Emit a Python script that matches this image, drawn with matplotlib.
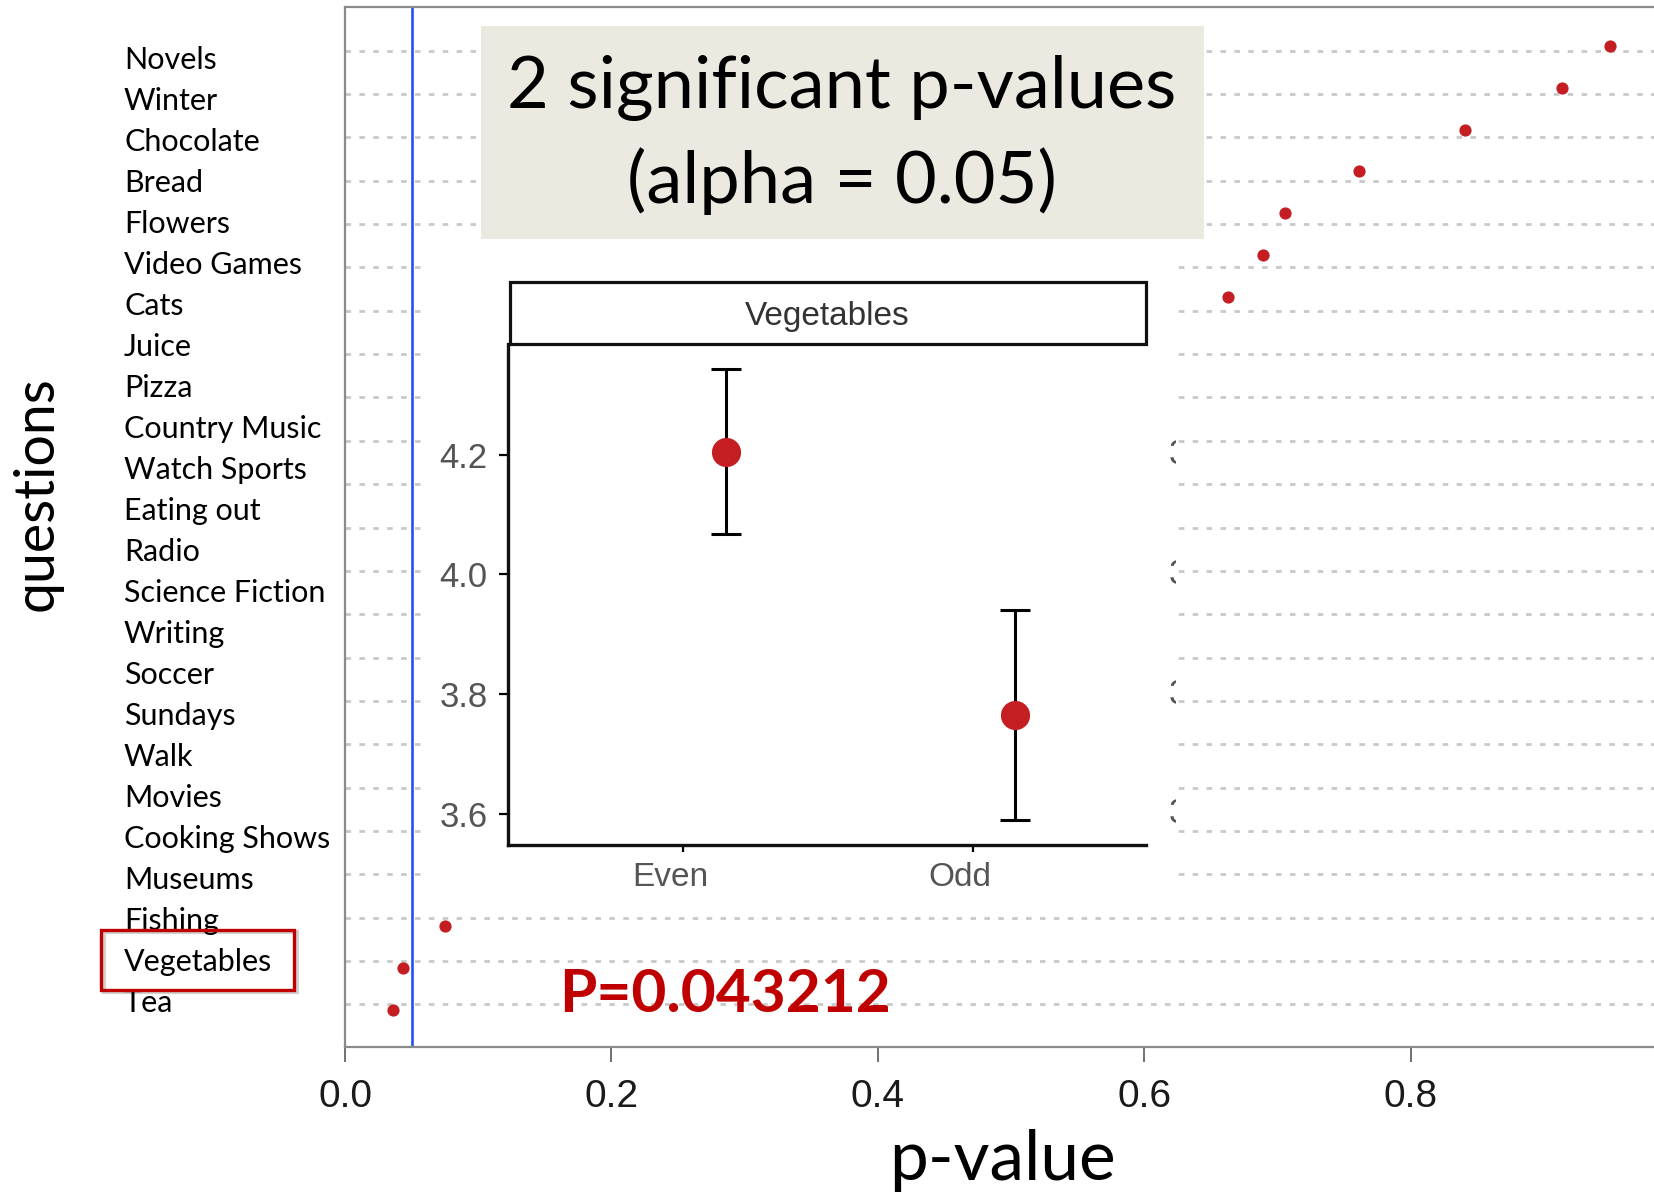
import matplotlib
matplotlib.use("Agg")
import matplotlib.pyplot as plt
from matplotlib.patches import Rectangle
from matplotlib.transforms import blended_transform_factory, ScaledTranslation

# ---------------- data ----------------
# questions, bottom (smallest p) to top (largest p)
questions = ["Tea", "Vegetables", "Fishing", "Museums", "Cooking Shows", "Movies",
             "Walk", "Sundays", "Soccer", "Writing", "Science Fiction", "Radio",
             "Eating out", "Watch Sports", "Country Music", "Pizza", "Juice",
             "Cats", "Video Games", "Flowers", "Bread", "Chocolate", "Winter", "Novels"]
# visible values; middle ones are hidden under the inset (estimates)
p_values = [0.036, 0.043212, 0.075, 0.112, 0.158, 0.187,
            0.231, 0.262, 0.304, 0.338, 0.371, 0.412,
            0.449, 0.497, 0.533, 0.571, 0.606,
            0.663, 0.689, 0.706, 0.761, 0.841, 0.914, 0.950]
alpha_level = 0.05
x_ticks = [0.0, 0.2, 0.4, 0.6, 0.8]
x_tick_labels = ["0.0", "0.2", "0.4", "0.6", "0.8"]

# inset: Vegetables by group
groups = ["Even", "Odd"]
group_means = [4.205, 3.765]
group_low = [4.068, 3.589]
group_high = [4.344, 3.941]
inset_yticks = [3.6, 3.8, 4.0, 4.2]
inset_ytick_labels = ["3.6", "3.8", "4.0", "4.2"]

title_lines = ["2 significant p-values", "(alpha = 0.05)"]
p_text = "P=0.043212"
highlight = "Vegetables"

# ---------------- layout ----------------
W, H = 1654, 1194
fig = plt.figure(figsize=(W / 100, H / 100), dpi=100)
fig.patch.set_facecolor("white")


def rect(l, t, r, b):
    return [l / W, 1 - b / H, (r - l) / W, (b - t) / H]


RED = "#C41E22"
DARK_RED = "#C00000"
CAL = ["Lato", "DejaVu Sans"]
ARIAL = ["Liberation Sans", "DejaVu Sans"]

main_rect = rect(345, 7.4, 1654, 1047)
XLIM = (0.0, 0.9827)
n_rows = len(questions)

# background grid layer (separate dashed guide layer of the composite)
ax_grid = fig.add_axes(main_rect, zorder=0)
ax_grid.set_xlim(*XLIM)
ax_grid.set_ylim(-0.985, 23.0)
ax_grid.set_yticks(range(23))
ax_grid.set_xticks([])
ax_grid.tick_params(left=False, labelleft=False)
ax_grid.yaxis.grid(True, color="#C9C9C9", lw=2.0, linestyle=(0, (2.0, 3.0)))
for s in ax_grid.spines.values():
    s.set_visible(False)

# main dot plot
ax = fig.add_axes(main_rect, zorder=1)
ax.patch.set_visible(False)
ypos = list(range(n_rows))
ax.plot(p_values, ypos, "o", ms=8.8, color=RED, mec="none", zorder=3)
ax.axvline(alpha_level, color="#2450F2", lw=1.9, zorder=2)
ax.set_xlim(*XLIM)
ax.set_ylim(-0.882, 23.913)
ax.set_yticks([])
ax.set_xticks(x_ticks)
ax.set_xticklabels(x_tick_labels, fontfamily=ARIAL, fontsize=28, color="#1A1A1A")
ax.tick_params(axis="x", length=11, width=1.4, color="#707070", pad=12)
for side in ["left", "bottom", "top"]:
    ax.spines[side].set_color("#8A8A8A")
    ax.spines[side].set_linewidth(1.6)
ax.spines["right"].set_visible(False)
ax.set_xlabel("p-value", fontfamily=CAL, fontsize=50, va="center")
ax.xaxis.set_label_coords(0.502, -0.1087)
ax.set_ylabel("questions", fontfamily=CAL, fontsize=40, va="center", ha="center")
ax.yaxis.set_label_coords(-0.2353, 0.532)

# category labels layer
ax_lab = fig.add_axes(main_rect, zorder=1)
ax_lab.patch.set_visible(False)
for s in ax_lab.spines.values():
    s.set_visible(False)
ax_lab.set_xticks([])
ax_lab.set_ylim(-1.121, 24.209)
ax_lab.set_yticks(range(n_rows))
ax_lab.set_yticklabels(questions, fontfamily=CAL, fontsize=22, ha="left")
ax_lab.tick_params(axis="y", length=0, pad=(345 - 124) * 0.72)

# highlight box round the Vegetables label (with a faint shadow)
hi = questions.index(highlight)
tr = blended_transform_factory(fig.transFigure, ax_lab.transData)
shadow_tr = tr + ScaledTranslation(2.5 / 100, -2.5 / 100, fig.dpi_scale_trans)
ax_lab.add_artist(Rectangle((101 / W, hi - 0.73), (294 - 101) / W, 1.46, transform=shadow_tr,
                            fill=False, ec="#000000", alpha=0.18, lw=3.0, clip_on=False, zorder=5))
ax_lab.add_artist(Rectangle((101 / W, hi - 0.73), (294 - 101) / W, 1.46, transform=tr,
                            fill=False, ec=DARK_RED, lw=2.4, clip_on=False, zorder=6))

# white cover under the inset
fig.add_artist(Rectangle((428 / W, 1 - 905 / H), (1176 - 428) / W, (905 - 245) / H,
                         transform=fig.transFigure, fc="white", ec="none", zorder=2))

# title box
fig.add_artist(Rectangle((481 / W, 1 - 239 / H), (1204 - 481) / W, (239 - 26) / H,
                         transform=fig.transFigure, fc="#ECEAE0", ec="none", zorder=3))
fig.text(842 / W, 1 - 88 / H, title_lines[0], ha="center", va="center",
         fontfamily=CAL, fontsize=52, zorder=4)
fig.text(842 / W, 1 - 181 / H, title_lines[1], ha="center", va="center",
         fontfamily=CAL, fontsize=52, zorder=4)

# p text
fig.text(725 / W, 1 - 995 / H, p_text, ha="center", va="center", fontfamily=CAL,
         fontweight="bold", fontsize=43.5, color=DARK_RED, zorder=4)

# inset panel
ax_in = fig.add_axes(rect(508, 344, 1146, 845), zorder=5)
ax_in.set_facecolor("white")
gx = [i + 1 for i in range(len(groups))]
dodge = 0.146
label_shift = 0.045
xs = [g + dodge for g in gx]
yerr = [[m - lo for m, lo in zip(group_means, group_low)],
        [hi_ - m for m, hi_ in zip(group_means, group_high)]]
ax_in.errorbar(xs, group_means, yerr=yerr, fmt="o", ms=21, color=RED, mec="none",
               ecolor="black", elinewidth=2.2, capsize=10.5, capthick=2.2)
ax_in.set_xlim(0.394, 2.599)
ax_in.set_ylim(3.548, 4.385)
# tick marks at the group positions, labels slightly to the left (as in the picture)
ax_in.set_xticks(gx)
ax_in.set_xticklabels([])
ax_in.set_xticks([g - label_shift for g in gx], minor=True)
ax_in.set_xticklabels(groups, minor=True, fontfamily=ARIAL, fontsize=24, color="#555555")
ax_in.tick_params(axis="x", which="major", length=5, width=1.6)
ax_in.tick_params(axis="x", which="minor", length=0, pad=12.5)
ax_in.set_yticks(inset_yticks)
ax_in.set_yticklabels(inset_ytick_labels, fontfamily=ARIAL, fontsize=25, color="#555555")
ax_in.tick_params(axis="y", length=6.5, width=1.6, pad=8)
for side in ["top", "right"]:
    ax_in.spines[side].set_visible(False)
for side in ["left", "bottom"]:
    ax_in.spines[side].set_linewidth(2.4)
    ax_in.spines[side].set_color("#111111")

strip_h = (344 - 282) / (845 - 344)
ax_in.add_artist(Rectangle((0.003, 1.0), 0.997, strip_h, transform=ax_in.transAxes,
                           fc="white", ec="#111111", lw=2.3, clip_on=False))
ax_in.text(0.5, 1 + strip_h / 2 - 4 / 501, highlight, transform=ax_in.transAxes, ha="center",
           va="center", fontfamily=ARIAL, fontsize=24, color="#333333")

# clipped fragments of the neighbouring facet's tick labels
ax_frag = fig.add_axes(rect(1169, 344, 1176, 845), zorder=5)
ax_frag.axis("off")
ax_frag.set_ylim(3.548, 4.385)
ftr = blended_transform_factory(ax_frag.transAxes, ax_frag.transData)
for v in inset_yticks:
    ax_frag.text(0.0, v, "3", transform=ftr, ha="left", va="center",
                 fontfamily=ARIAL, fontsize=25, color="#555555", clip_on=True)

fig.savefig("out.png", dpi=100)
